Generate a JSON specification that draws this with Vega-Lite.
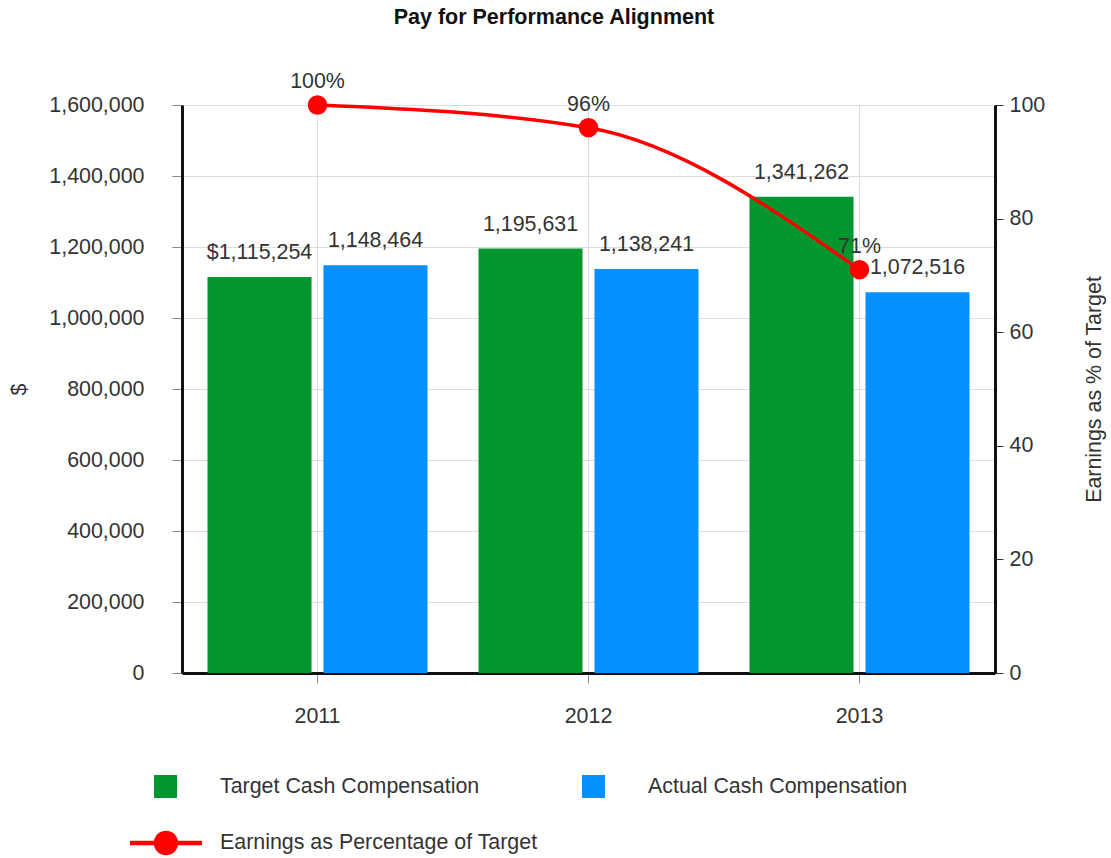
{
  "$schema": "https://vega.github.io/schema/vega-lite/v6.json",
  "width": 813,
  "height": 568,
  "autosize": {"type": "none"},
  "padding": {"left": 182, "top": 105, "right": 116, "bottom": 185},
  "background": "white",
  "title": {
    "text": "Pay for Performance Alignment",
    "font": "Liberation Sans",
    "fontSize": 21.5,
    "fontWeight": "bold",
    "color": "#111",
    "anchor": "middle",
    "frame": "bounds",
    "offset": 43,
    "dx": -3
  },
  "config": {
    "font": "Liberation Sans",
    "view": {"stroke": null},
    "axis": {
      "labelFont": "Liberation Sans",
      "labelFontSize": 21.4,
      "labelColor": "#333",
      "titleFont": "Liberation Sans",
      "titleFontSize": 21.4,
      "titleFontWeight": "normal",
      "titleColor": "#333",
      "domainColor": "#111",
      "domainWidth": 3,
      "tickColor": "#888",
      "tickSize": 10,
      "gridColor": "#dedede",
      "gridWidth": 1
    },
    "legend": {
      "labelFont": "Liberation Sans",
      "labelFontSize": 21.4,
      "labelColor": "#333",
      "labelLimit": 500,
      "padding": 0
    }
  },
  "datasets": {
    "bars": [
      {"year": "2011", "series": "Target Cash Compensation", "value": 1115254, "label": "$1,115,254"},
      {"year": "2011", "series": "Actual Cash Compensation", "value": 1148464, "label": "1,148,464"},
      {"year": "2012", "series": "Target Cash Compensation", "value": 1195631, "label": "1,195,631"},
      {"year": "2012", "series": "Actual Cash Compensation", "value": 1138241, "label": "1,138,241"},
      {"year": "2013", "series": "Target Cash Compensation", "value": 1341262, "label": "1,341,262"},
      {"year": "2013", "series": "Actual Cash Compensation", "value": 1072516, "label": "1,072,516"}
    ],
    "pct": [
      {"year": "2011", "pct": 100, "label": "100%", "name": "Earnings as Percentage of Target"},
      {"year": "2012", "pct": 96, "label": "96%", "name": "Earnings as Percentage of Target"},
      {"year": "2013", "pct": 71, "label": "71%", "name": "Earnings as Percentage of Target"}
    ]
  },
  "layer": [
    {
      "data": {"name": "bars"},
      "encoding": {
        "x": {
          "field": "year",
          "type": "nominal",
          "scale": {"paddingInner": 0, "paddingOuter": 0},
          "axis": {"title": null, "labelAngle": 0, "grid": true, "labelPadding": 22, "domainColor": "#111"}
        },
        "xOffset": {
          "field": "series",
          "type": "nominal",
          "sort": ["Target Cash Compensation", "Actual Cash Compensation"],
          "scale": {"paddingInner": 0.103, "paddingOuter": 0.22}
        },
        "y": {
          "field": "value",
          "type": "quantitative",
          "scale": {"domain": [0, 1600000], "nice": false},
          "axis": {
            "title": "$",
            "titleAngle": -90,
            "titlePadding": 19,
            "values": [0, 200000, 400000, 600000, 800000, 1000000, 1200000, 1400000, 1600000],
            "format": ",d",
            "labelPadding": 28,
            "grid": true
          }
        }
      },
      "layer": [
        {
          "mark": {"type": "bar"},
          "encoding": {
            "color": {
              "field": "series",
              "type": "nominal",
              "sort": ["Target Cash Compensation", "Actual Cash Compensation"],
              "scale": {"domain": ["Target Cash Compensation", "Actual Cash Compensation"], "range": ["#03962f", "#0590fe"]},
              "legend": {
                "title": null,
                "orient": "none",
                "legendX": -28,
                "legendY": 670,
                "columns": 2,
                "columnPadding": 102,
                "symbolType": "square",
                "symbolSize": 529,
                "symbolStrokeWidth": 0,
                "labelOffset": 43,
                "direction": "horizontal"
              }
            }
          }
        },
        {
          "mark": {"type": "text", "baseline": "alphabetic", "dy": -18, "fontSize": 21.4, "color": "#333", "font": "Liberation Sans"},
          "encoding": {"text": {"field": "label"}}
        }
      ]
    },
    {
      "data": {"name": "pct"},
      "encoding": {
        "x": {"field": "year", "type": "nominal"},
        "y": {
          "field": "pct",
          "type": "quantitative",
          "scale": {"domain": [0, 100], "nice": false},
          "axis": {
            "orient": "right",
            "title": "Earnings as % of Target",
            "titleAngle": -90,
            "titlePadding": 60,
            "values": [0, 20, 40, 60, 80, 100],
            "labelPadding": 6,
            "grid": false,
            "tickColor": "#333",
            "tickSize": 8
          }
        }
      },
      "layer": [
        {
          "mark": {"type": "line", "color": "#f00", "strokeWidth": 3.5, "interpolate": "monotone"}
        },
        {
          "mark": {"type": "point", "filled": true, "size": 380, "opacity": 1},
          "encoding": {
            "color": {
              "field": "name",
              "type": "nominal",
              "scale": {"range": ["#ff0000"]},
              "legend": {
                "title": null,
                "orient": "none",
                "legendX": -52,
                "legendY": 702,
                "symbolType": "M-1,-0.06L1,-0.06L1,0.06L-1,0.06Z M0.34,0A0.34,0.34,0,1,1,-0.34,0A0.34,0.34,0,1,1,0.34,0Z",
                "symbolSize": 5184,
                "symbolOpacity": 1,
                "symbolStrokeWidth": 0,
                "labelOffset": 18
              }
            }
          }
        },
        {
          "mark": {"type": "text", "baseline": "alphabetic", "dy": -17, "fontSize": 21.4, "color": "#333", "font": "Liberation Sans"},
          "encoding": {"text": {"field": "label"}}
        }
      ]
    }
  ],
  "resolve": {"scale": {"y": "independent", "color": "independent"}, "axis": {"y": "independent"}}
}
